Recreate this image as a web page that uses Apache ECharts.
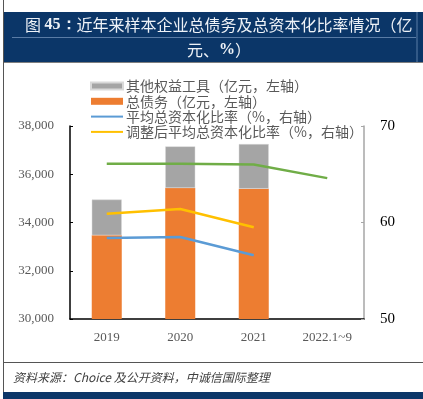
<!DOCTYPE html>
<html>
<head>
<meta charset="utf-8">
<script src="https://cdn.jsdelivr.net/npm/echarts@6/dist/echarts.min.js"></script>
<style>
  html, body { margin: 0; padding: 0; background: #fff; }
  #chart { width: 423px; height: 399px; }
</style>
</head>
<body>
<div id="chart"></div>
<script>
// 数据
const years = ['2019', '2020', '2021', '2022.1~9']
const totalDebt = [33470, 35430, 35400, null]          // 总债务（亿元）
const otherEquity = [1480, 1725, 1850, null]           // 其他权益工具（亿元）
const avgRatio = [58.4, 58.5, 56.6, null]              // 平均总资本化比率（%）
const adjRatio = [60.9, 61.4, 59.5, null]              // 调整后平均总资本化比率（%）
const otherRatio = [66.1, 66.1, 66.0, 64.6]            // 绿线（图例未显示）
const leftTicks = [30000, 38000, 2000]
const rightTicks = [50, 70, 10]

const serif = '"Liberation Serif", "Times New Roman", serif'
const cjk = '"Noto Sans CJK SC", sans-serif'
const navy = '#0b3668'

const chart = echarts.init(document.getElementById('chart'))

chart.setOption({
  animation: false,
  grid: { left: 70, right: 59, top: 126, bottom: 80 },
  legend: {
    orient: 'vertical',
    left: 85,
    top: 74,
    itemWidth: 32,
    itemHeight: 7,
    itemGap: 1.3,
    data: [
      { name: '其他权益工具（亿元，左轴）', icon: 'rect' },
      { name: '总债务（亿元，左轴）', icon: 'rect' },
      { name: '平均总资本化比率（%，右轴）', itemStyle: { opacity: 0 } },
      { name: '调整后平均总资本化比率（%，右轴）', itemStyle: { opacity: 0 } }
    ],
    textStyle: { fontFamily: cjk, fontSize: 14, color: '#595959', lineHeight: 14, padding: [0, 0, 0, -2] }
  },
  xAxis: {
    type: 'category',
    data: years,
    axisLine: { lineStyle: { color: '#000', width: 1.5 } },
    axisTick: { show: false },
    axisLabel: { fontFamily: serif, fontSize: 13, color: '#595959', margin: 12 }
  },
  yAxis: [{
    type: 'value',
    min: leftTicks[0], max: leftTicks[1], interval: leftTicks[2],
    axisLine: { show: true, lineStyle: { color: '#000', width: 1.5 } },
    axisTick: { show: true, inside: true, length: 3, lineStyle: { color: '#000' } },
    splitLine: { show: false },
    axisLabel: {
      fontFamily: serif, fontSize: 13, color: '#595959', margin: 16,
      formatter: v => v.toLocaleString('en-US')
    }
  }, {
    type: 'value',
    min: rightTicks[0], max: rightTicks[1], interval: rightTicks[2],
    axisLine: { show: true, lineStyle: { color: '#a6a6a6', width: 1.5 } },
    axisTick: { show: true, inside: true, length: 3, lineStyle: { color: '#a6a6a6' } },
    splitLine: { show: false },
    axisLabel: { fontFamily: serif, fontSize: 15, color: '#000', margin: 16 }
  }],
  series: [{
    name: '总债务（亿元，左轴）',
    type: 'bar',
    stack: 'a',
    barWidth: 30,
    itemStyle: { color: '#ed7d31' },
    data: totalDebt
  }, {
    name: '其他权益工具（亿元，左轴）',
    type: 'bar',
    stack: 'a',
    barWidth: 30,
    itemStyle: { color: '#a5a5a5', borderColor: '#d9d9d9', borderWidth: 0.5 },
    data: otherEquity
  }, {
    name: '平均总资本化比率（%，右轴）',
    type: 'line',
    yAxisIndex: 1,
    symbol: 'none',
    lineStyle: { color: '#5b9bd5', width: 2.5 },
    itemStyle: { color: '#5b9bd5' },
    data: avgRatio
  }, {
    name: '调整后平均总资本化比率（%，右轴）',
    type: 'line',
    yAxisIndex: 1,
    symbol: 'none',
    lineStyle: { color: '#ffc000', width: 2.5 },
    itemStyle: { color: '#ffc000' },
    data: adjRatio
  }, {
    name: '其他',
    type: 'line',
    yAxisIndex: 1,
    symbol: 'none',
    lineStyle: { color: '#70ad47', width: 2.5 },
    itemStyle: { color: '#70ad47' },
    data: otherRatio
  }],
  graphic: [
    // 标题栏
    { type: 'rect', left: 3, top: 12, shape: { width: 420, height: 50 }, style: { fill: navy } },
    { type: 'line', shape: { x1: 12, y1: 37.5, x2: 416, y2: 37.5 }, style: { stroke: '#5a7ca6', lineWidth: 1 } },
    { type: 'line', shape: { x1: 417, y1: 12, x2: 417, y2: 62 }, style: { stroke: '#5a7ca6', lineWidth: 1 } },
    { type: 'line', shape: { x1: 3, y1: 62.5, x2: 423, y2: 62.5 }, style: { stroke: '#7f7f7f', lineWidth: 1 } },
    {
      type: 'text', left: 25, top: 17,
      style: {
        text: '{a|图 }{b|45：}{a|近年来样本企业总债务及总资本化比率情况（亿}',
        rich: {
          a: { fontFamily: cjk, fontSize: 16, fill: '#eef2f7' },
          b: { fontFamily: serif, fontSize: 16, fontWeight: 'bold', fill: '#eef2f7' }
        }
      }
    },
    {
      type: 'text', left: 187, top: 42,
      style: {
        text: '{a|元、}{b|%}{a|）}',
        rich: {
          a: { fontFamily: cjk, fontSize: 16, fill: '#eef2f7' },
          b: { fontFamily: serif, fontSize: 16, fontWeight: 'bold', fill: '#eef2f7' }
        }
      }
    },
    // 左边框
    { type: 'line', shape: { x1: 3.5, y1: 0, x2: 3.5, y2: 399 }, style: { stroke: '#555', lineWidth: 1 } },
    // 底部分隔线与来源
    { type: 'line', shape: { x1: 3, y1: 362.5, x2: 423, y2: 362.5 }, style: { stroke: '#555', lineWidth: 1 } },
    {
      type: 'text', left: 13, top: 371,
      style: {
        text: '资料来源：Choice 及公开资料，中诚信国际整理',
        fontFamily: cjk, fontSize: 12, fontStyle: 'italic', fill: '#404040'
      }
    },
    { type: 'rect', left: 3, top: 392, shape: { width: 420, height: 7 }, style: { fill: navy } }
  ]
})
</script>
</body>
</html>
